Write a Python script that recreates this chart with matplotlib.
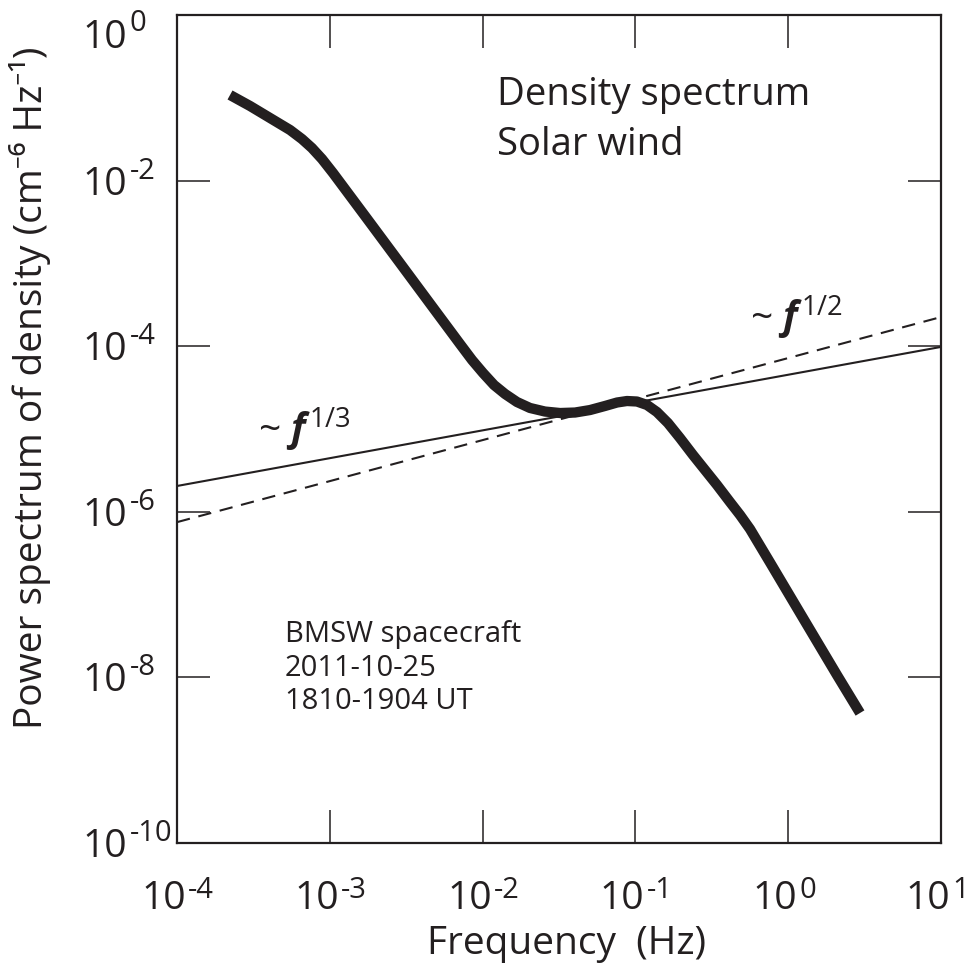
import numpy as np
import matplotlib
matplotlib.use('Agg')
import matplotlib.pyplot as plt

# ------------------------------------------------------------
# data (log10 units)
# ------------------------------------------------------------
spec_logf = [-3.653, -3.522, -3.391, -3.260, -3.182, -3.117, -3.051, -2.979,
             -2.757, -2.541, -2.325, -2.148, -2.069, -1.997, -1.925, -1.853,
             -1.775, -1.690, -1.592, -1.493, -1.395, -1.297, -1.199, -1.120,
             -1.055, -0.990, -0.924, -0.859, -0.787, -0.708, -0.623, -0.466,
             -0.381, -0.315, -0.250, -0.119, 0.097, 0.319, 0.470]
spec_logp = [-0.966, -1.099, -1.244, -1.389, -1.498, -1.606, -1.739, -1.908,
             -2.458, -2.995, -3.533, -3.973, -4.167, -4.324, -4.469, -4.577,
             -4.674, -4.746, -4.789, -4.807, -4.801, -4.771, -4.722, -4.680,
             -4.662, -4.668, -4.710, -4.795, -4.928, -5.109, -5.314, -5.676,
             -5.882, -6.039, -6.208, -6.612, -7.283, -7.971, -8.430]

# reference power laws, end points at the axis limits
ref_f = [1e-4, 1e1]
ref_third = [2.05e-6, 9.8e-5]    # ~ f^(1/3)
ref_half = [7.5e-7, 2.25e-4]     # ~ f^(1/2)

x_exps = [-4, -3, -2, -1, 0, 1]
y_exps = [0, -2, -4, -6, -8, -10]

INK = '#231f20'
W, H = 970, 969

plt.rcParams['font.family'] = ['Open Sans', 'Noto Sans', 'DejaVu Sans']
plt.rcParams['mathtext.fontset'] = 'custom'
plt.rcParams['mathtext.rm'] = 'Open Sans'
plt.rcParams['mathtext.it'] = 'Open Sans:italic'
plt.rcParams['mathtext.bfit'] = 'Open Sans:italic:bold'
plt.rcParams['text.color'] = INK


def px(x, y):
    return x / W, 1 - y / H


def pt(p):
    # pixels -> points at dpi 100
    return p * 0.72


fig = plt.figure(figsize=(W / 100, H / 100), dpi=100)
ax = fig.add_axes([177 / W, 1 - 843 / H, (941 - 177) / W, (843 - 15) / H])

freq = 10.0 ** np.array(spec_logf)
power = 10.0 ** np.array(spec_logp)

ax.plot(ref_f, ref_third, color=INK, lw=1.5)
ax.plot(ref_f, ref_half, color=INK, lw=1.5, dashes=(6.4, 4.2))
ax.plot(freq, power, color=INK, lw=7.4, solid_capstyle='butt',
        solid_joinstyle='round')

ax.set_xscale('log')
ax.set_yscale('log')
ax.set_xlim(1e-4, 1e1)
ax.set_ylim(1e-10, 1e0)
ax.set_xticks([10.0 ** e for e in x_exps])
ax.set_yticks([10.0 ** e for e in y_exps])
ax.minorticks_off()
ax.tick_params(which='major', direction='in', length=pt(33), width=1.1,
               color=INK, top=True, right=True,
               labelbottom=False, labelleft=False)
for s in ax.spines.values():
    s.set_linewidth(1.6)
    s.set_color(INK)

# tick labels: "10" plus a superscript with a plain hyphen
big, small = 28, 21
xt = ax.get_xaxis_transform()
for e in x_exps:
    ax.annotate('10', xy=(10.0 ** e, 0), xycoords=xt,
                xytext=(pt(9), pt(-66)), textcoords='offset points',
                ha='right', va='baseline', fontsize=big, annotation_clip=False)
    ax.annotate(str(e), xy=(10.0 ** e, 0), xycoords=xt,
                xytext=(pt(11), pt(-55)), textcoords='offset points',
                ha='left', va='baseline', fontsize=small, annotation_clip=False)

yt = ax.get_yaxis_transform()
for e in y_exps:
    big_dy, small_dy = (-33, -16) if e == 0 else (-14, 2)
    ax.annotate('10', xy=(0, 10.0 ** e), xycoords=yt,
                xytext=(pt(-50), pt(big_dy)), textcoords='offset points',
                ha='right', va='baseline', fontsize=big, annotation_clip=False)
    ax.annotate(str(e), xy=(0, 10.0 ** e), xycoords=yt,
                xytext=(pt(-47), pt(small_dy)), textcoords='offset points',
                ha='left', va='baseline', fontsize=small, annotation_clip=False)

fig.text(*px(567, 944), 'Frequency  (Hz)', ha='center', va='center',
         fontsize=28)
fig.text(*px(30, 388), 'Power spectrum of density (cm\u207b\u2076 Hz\u207b\u00b9)',
         ha='center', va='center', rotation=90, fontsize=28)

fig.text(*px(497, 120), 'Density spectrum\nSolar wind', ha='left',
         va='center', fontsize=27.5, linespacing=1.42)
fig.text(*px(285, 668), 'BMSW spacecraft\n2011-10-25\n1810-1904 UT',
         ha='left', va='center', fontsize=21, linespacing=1.2)

fig.text(*px(258, 430), r'~ $\mathbfit{f}^{\,1/3}$', ha='left', va='center',
         fontsize=28)
fig.text(*px(750, 318), r'~ $\mathbfit{f}^{\,1/2}$', ha='left', va='center',
         fontsize=28)

fig.savefig('out.png', dpi=100, facecolor='white')
